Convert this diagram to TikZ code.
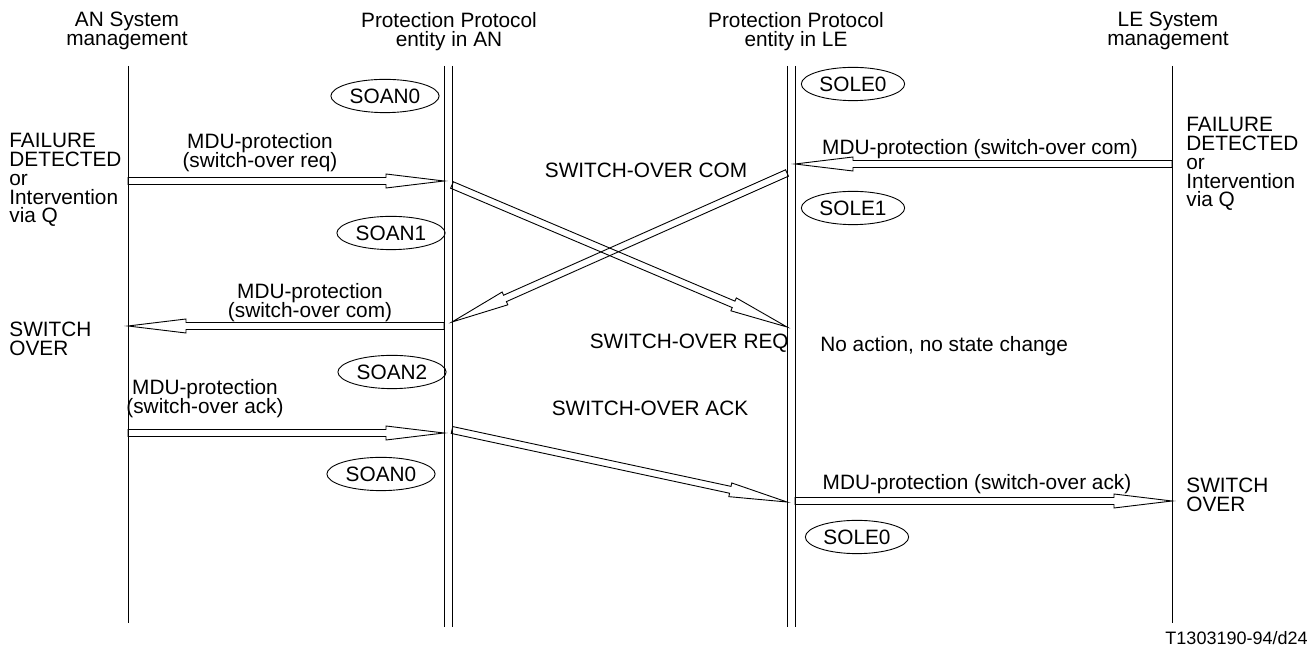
\documentclass[tikz,border=0pt]{standalone}
\usepackage{fontspec}
\setmainfont{Liberation Sans}
\usetikzlibrary{calc,shapes.geometric}
\lineskiplimit=-20pt

\tikzset{
  txt/.style={inner sep=0pt, font=\fontsize{10.4pt}{9.4pt}\selectfont},
  head/.style={txt, anchor=north, align=center},
  state/.style={draw, ellipse, line width=0.45pt, inner xsep=1.5pt, inner ysep=2.2pt,
    font=\fontsize{10.4pt}{9.4pt}\selectfont},
  life/.style={line width=0.5pt},
  msg/.style={draw, line width=0.45pt, line join=miter, to path={
    ($(\tikztostart)!1.75pt!90:(\tikztotarget)$)
    -- ($(\tikztotarget)!29pt!(\tikztostart)!1.75pt!90:(\tikztotarget)$)
    -- ($(\tikztotarget)!29pt!(\tikztostart)!3.5pt!90:(\tikztotarget)$)
    -- (\tikztotarget)
    -- ($(\tikztotarget)!29pt!(\tikztostart)!3.5pt!-90:(\tikztotarget)$)
    -- ($(\tikztotarget)!29pt!(\tikztostart)!1.75pt!-90:(\tikztotarget)$)
    -- ($(\tikztostart)!1.75pt!-90:(\tikztotarget)$) -- cycle}},
}

\begin{document}
\begin{tikzpicture}[x=0.5pt, y=-0.5pt]
	\useasboundingbox (0,0) rectangle (1314,651);

	\node[head] (anm) at (127,12) {AN System\\management};
	\node[head] (anp) at (449,12) {Protection Protocol\\entity in AN};
	\node[head] (lep) at (796,12) {Protection Protocol\\entity in LE};
	\node[head] (lem) at (1168,12) {LE System\\management};

	\coordinate (anm top) at (128,66);  \coordinate (anm bot) at (128,623);
	\coordinate (anl top) at (444,66);  \coordinate (anl bot) at (444,627);
	\coordinate (anr top) at (452,66);  \coordinate (anr bot) at (452,627);
	\coordinate (lel top) at (787,66);  \coordinate (lel bot) at (787,627);
	\coordinate (ler top) at (795,66);  \coordinate (ler bot) at (795,627);
	\coordinate (lem top) at (1172,66); \coordinate (lem bot) at (1172,623);

	\draw[life] (anm top) -- (anm bot);
	\draw[life] (anl top) -- (anl bot);
	\draw[life] (anr top) -- (anr bot);
	\draw[life] (lel top) -- (lel bot);
	\draw[life] (ler top) -- (ler bot);
	\draw[life] (lem top) -- (lem bot);

	\node[state] (soan0) at (385,96) {SOAN0};
	\node[state] (sole0) at (853,84) {SOLE0};
	\node[state] (sole1) at (853,208) {SOLE1};
	\node[state] (soan1) at (391,233) {SOAN1};
	\node[state] (soan2) at (392,372) {SOAN2};
	\node[state] (soan0b) at (381,474) {SOAN0};
	\node[state] (sole0b) at (857,537) {SOLE0};

	\coordinate (anm-req) at (128,181); \coordinate (anl-req) at (444,181);
	\coordinate (anr-req) at (452,185); \coordinate (lel-req) at (787,327);
	\coordinate (lel-com) at (787,173); \coordinate (anr-com) at (452,322);
	\coordinate (lem-com) at (1172,164); \coordinate (ler-com) at (795,164);
	\coordinate (anl-com) at (444,326); \coordinate (anm-com) at (128,326);
	\coordinate (anm-ack) at (128,433); \coordinate (anl-ack) at (444,433);
	\coordinate (anr-ack) at (452,430); \coordinate (lel-ack) at (787,502);
	\coordinate (ler-ack) at (795,501); \coordinate (lem-ack) at (1172,501);

	\draw[msg] (anm-req) to (anl-req);
	\draw[msg] (anr-req) to (lel-req);
	\draw[msg] (lel-com) to (anr-com);
	\draw[msg] (lem-com) to (ler-com);
	\draw[msg] (anl-com) to (anm-com);
	\draw[msg] (anm-ack) to (anl-ack);
	\draw[msg] (anr-ack) to (lel-ack);
	\draw[msg] (ler-ack) to (lem-ack);

	\node[txt, anchor=north, align=center] (req1) at (260,133) {MDU-protection\\(switch-over req)};
	\node[txt, anchor=north, align=center] (com1) at (310,283) {MDU-protection\\(switch-over com)};
	\node[txt, anchor=north, align=center] (ack1) at (205,379) {MDU-protection\\(switch-over ack)};
	\node[txt, anchor=north] (com2) at (980,139) {MDU-protection (switch-over com)};
	\node[txt, anchor=north] (ack2) at (977,474) {MDU-protection (switch-over ack)};
	\node[txt, anchor=north] (swcom) at (646,163) {SWITCH-OVER COM};
	\node[txt, anchor=north east] (swreq) at (789,334) {SWITCH-OVER REQ};
	\node[txt, anchor=north] (swack) at (650,401) {SWITCH-OVER ACK};
	\node[txt, anchor=north west] (noact) at (820,336) {No action, no state change};

	\node[txt, anchor=north west, align=left] (failan) at (9,133) {FAILURE\\DETECTED\\or\\Intervention\\via Q};
	\node[txt, anchor=north west, align=left] (faille) at (1186,117) {FAILURE\\DETECTED\\or\\Intervention\\via Q};
	\node[txt, anchor=north west, align=left] (swan) at (9,322) {SWITCH\\OVER};
	\node[txt, anchor=north west, align=left] (swle) at (1186,478) {SWITCH\\OVER};

	\node[inner sep=0pt, anchor=north east, font=\fontsize{9pt}{10pt}\selectfont] (fig) at (1308,631) {T1303190-94/d24};
\end{tikzpicture}
\end{document}
